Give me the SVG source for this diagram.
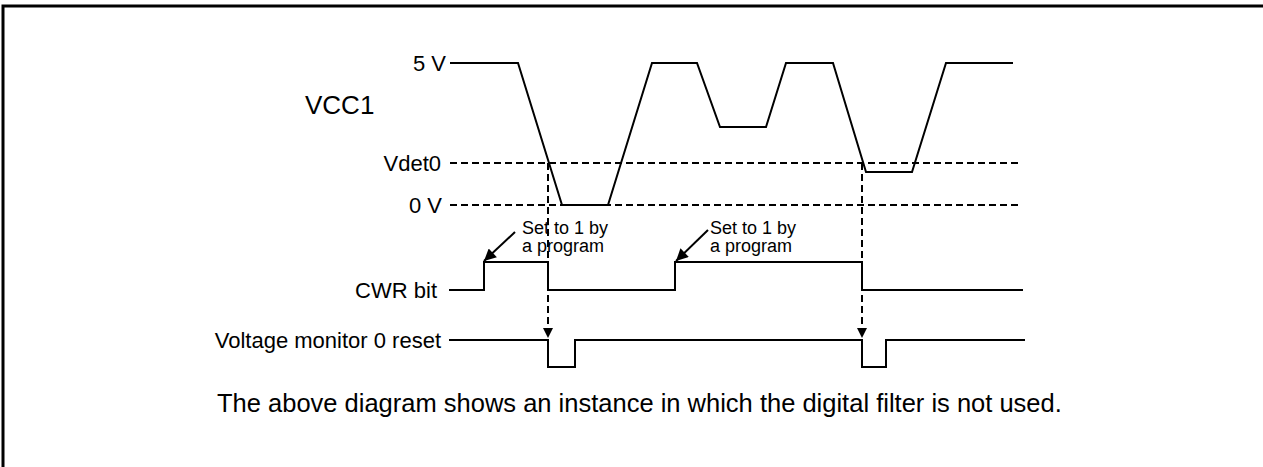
<svg xmlns="http://www.w3.org/2000/svg" width="1263" height="467" viewBox="0 0 1263 467">
<style>
text{font-family:"Liberation Sans",Arial,sans-serif;fill:#000}
.w{fill:none;stroke:#000;stroke-width:2}
.d{fill:none;stroke:#000;stroke-width:2;stroke-dasharray:7 4}
.lab{font-size:22px;text-anchor:end}
.sm{font-size:18px}
</style>
<defs>
<marker id="ah" viewBox="0 0 10 10" refX="10" refY="5" markerWidth="11" markerHeight="10" markerUnits="userSpaceOnUse" orient="auto">
<path d="M0,0 L10,5 L0,10 z" fill="#000"/>
</marker>
<marker id="ah2" viewBox="0 0 10 10" refX="10" refY="5" markerWidth="14" markerHeight="12" markerUnits="userSpaceOnUse" orient="auto">
<path d="M0,0 L10,5 L0,10 z" fill="#000"/>
</marker>
</defs>
<rect width="1263" height="467" fill="#fff"/>
<path d="M3,467 V6 H1263" fill="none" stroke="#000" stroke-width="3"/>
<g id="labels">
<text x="305" y="114" font-size="26">VCC1</text>
<text class="lab" x="446" y="71">5 V</text>
<text class="lab" x="441" y="171">Vdet0</text>
<text class="lab" x="442" y="213">0 V</text>
<text class="lab" x="437" y="298">CWR bit</text>
<text class="lab" x="441" y="348">Voltage monitor 0 reset</text>
<text class="sm" x="522" y="234">Set to 1 by</text>
<text class="sm" x="522" y="252">a program</text>
<text class="sm" x="710" y="234">Set to 1 by</text>
<text class="sm" x="710" y="252">a program</text>
<text x="217" y="412" font-size="25.5">The above diagram shows an instance in which the digital filter is not used.</text>
</g>
<g id="vcc1">
<polyline class="w" points="450,63 518,63 562,205 608,205 652,63 697,63 720,127 766,127 786,63 833,63 866,172 912,172 946,63 1013,63"/>
</g>
<g id="levels">
<line class="d" x1="450" y1="163" x2="1022" y2="163"/>
<line class="d" x1="450" y1="205" x2="1022" y2="205"/>
</g>
<g id="cwr">
<polyline class="w" points="449,290 484,290 484,262 548,262 548,290 675,290 675,262 862,262 862,290 1023,290"/>
</g>
<g id="vmr">
<polyline class="w" points="449,340 548,340 548,367 575,367 575,340 862,340 862,367 886,367 886,340 1025,340"/>
</g>
<g id="connectors">
<line class="d" x1="548" y1="163" x2="548" y2="338" marker-end="url(#ah)"/>
<line class="d" x1="862" y1="163" x2="862" y2="338" marker-end="url(#ah)"/>
<line class="w" x1="515" y1="232" x2="484" y2="261" marker-end="url(#ah2)"/>
<line class="w" x1="708" y1="230" x2="676" y2="261" marker-end="url(#ah2)"/>
</g>
</svg>
